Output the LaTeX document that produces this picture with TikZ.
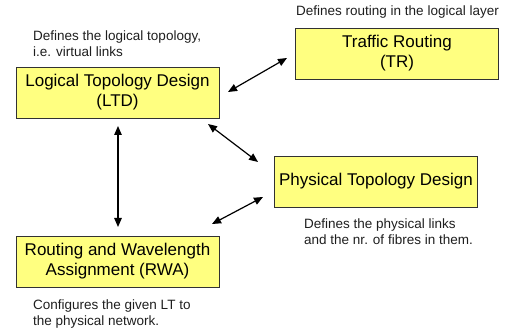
\documentclass[tikz,border=0pt]{standalone}
\usepackage{fontspec}
\setmainfont{Liberation Sans}
\usetikzlibrary{arrows.meta}
\definecolor{boxyellow}{RGB}{255,255,128}
\definecolor{boxborder}{RGB}{50,50,50}
\definecolor{notegray}{RGB}{30,30,30}
\begin{document}
\begin{tikzpicture}[x=1pt,y=-1pt,
  box/.style={draw=boxborder, line width=0.9pt, fill=boxyellow,
    minimum width=203pt, minimum height=51pt, inner sep=0pt,
    align=center, font=\fontsize{17}{20}\selectfont},
  note/.style={anchor=base west, align=left, inner sep=0pt,
    font=\fontsize{13.5}{16}\selectfont, text=notegray},
  link/.style={{Triangle[length=9pt,width=7.5pt]}-{Triangle[length=9pt,width=7.5pt]},
    line width=1.2pt}]
\useasboundingbox (0,0) rectangle (513,328);
% boxes
\node[box] (ltd) at (117.5,92.5) {Logical Topology Design\\(LTD)};
\node[box] (tr)  at (397,53.5) {Traffic Routing\\(TR)};
\node[box] (rwa) at (117.5,261.5) {Routing and Wavelength\\Assignment (RWA)};
\node[box] (ptd) at (376,181.5) {Physical Topology Design};
% notes (anchor = baseline of the last line)
\node[note] (n1) at (33,57) {Defines the logical topology,\\i.e. virtual links};
\node[note] (n2) at (296,16) {Defines routing in the logical layer};
\node[note] (n3) at (304,244) {Defines the physical links\\and the nr. of fibres in them.};
\node[note] (n4) at (33,325) {Configures the given LT to\\the physical network.};
% connector ends
\coordinate (a1) at (228,92);
\coordinate (a2) at (287,58);
\coordinate (b1) at (208,124);
\coordinate (b2) at (258,162);
\coordinate (c1) at (263,197);
\coordinate (c2) at (212,224);
\coordinate (d1) at (118,126);
\coordinate (d2) at (118,227);
\draw[link] (a1) -- (a2);
\draw[link] (b1) -- (b2);
\draw[link] (c1) -- (c2);
\draw[link] (d1) -- (d2);
\end{tikzpicture}
\end{document}
